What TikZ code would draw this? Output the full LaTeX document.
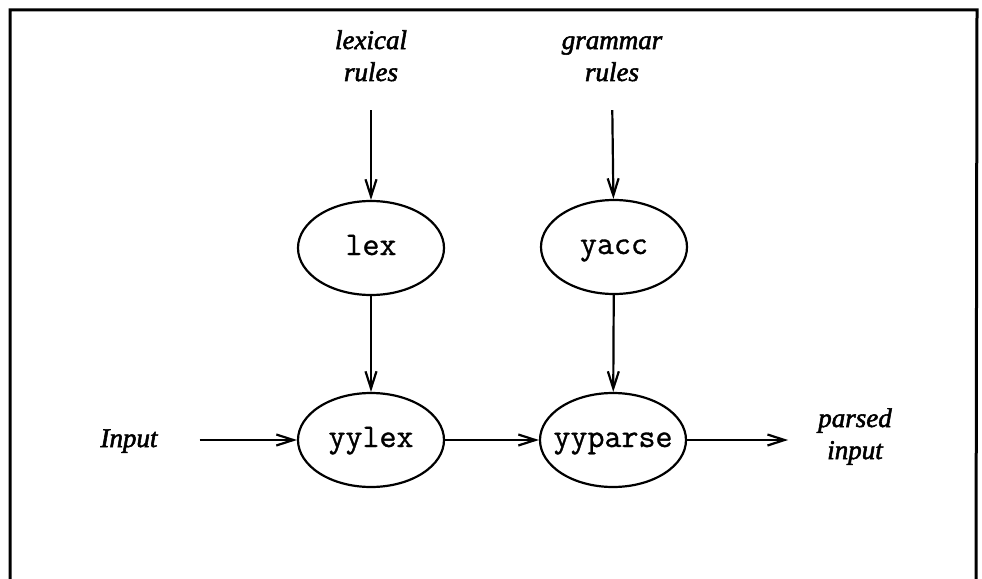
\documentclass[tikz,border=0pt]{standalone}
\usepackage{fontspec}
\setmainfont{Liberation Serif}[ItalicFeatures={FakeBold=2}]
\setmonofont{Latin Modern Mono}[FakeBold=1]
\usetikzlibrary{shapes.geometric,arrows.meta}
\begin{document}
\begin{tikzpicture}[x=1pt,y=-1pt,
  proc/.style={ellipse,draw,line width=2.2pt,minimum width=146pt,minimum height=94pt,inner ysep=0pt,inner xsep=-14pt,text height=18pt,text depth=4pt,font=\fontsize{33}{35}\selectfont\ttfamily},
  lbl/.style={align=center,inner sep=0pt,text height=20pt,text depth=6pt,font=\fontsize{27}{32}\selectfont\itshape},
  flow/.style={line width=2.2pt,-{Straight Barb[length=17pt,width=11pt,line width=2.2pt]}}]
\useasboundingbox (0,0) rectangle (982,578);
\draw[line width=3pt] (10,590) -- (10,10) -- (977,10) -- (976,590);
\node[proc] (lex) at (371,248) {lex};
\node[proc] (yacc) at (614,247) {yacc};
\node[proc] (yylex) at (371,440) {yylex};
\node[proc] (yyparse) at (613,440) {yyparse};
\node[lbl] (lexr) at (371,74) {lexical\\rules};
\node[lbl] (gram) at (612,74) {grammar\\rules};
\node[lbl] (in) at (129,440) {Input};
\node[lbl] (out) at (855,452) {parsed\\input};
\draw[flow,shorten <=23pt] (lexr.south) -- (lex);
\draw[flow,shorten <=23pt] (gram.south) -- (yacc);
\draw[flow] (lex) -- (yylex);
\draw[flow] (yacc) -- (yyparse);
\draw[flow,shorten <=42pt] (in.east) -- (yylex);
\draw[flow] (yylex) -- (yyparse);
\draw[flow,shorten >=30pt] (yyparse.east) -- (yyparse.east -| out.west);
\end{tikzpicture}
\end{document}
